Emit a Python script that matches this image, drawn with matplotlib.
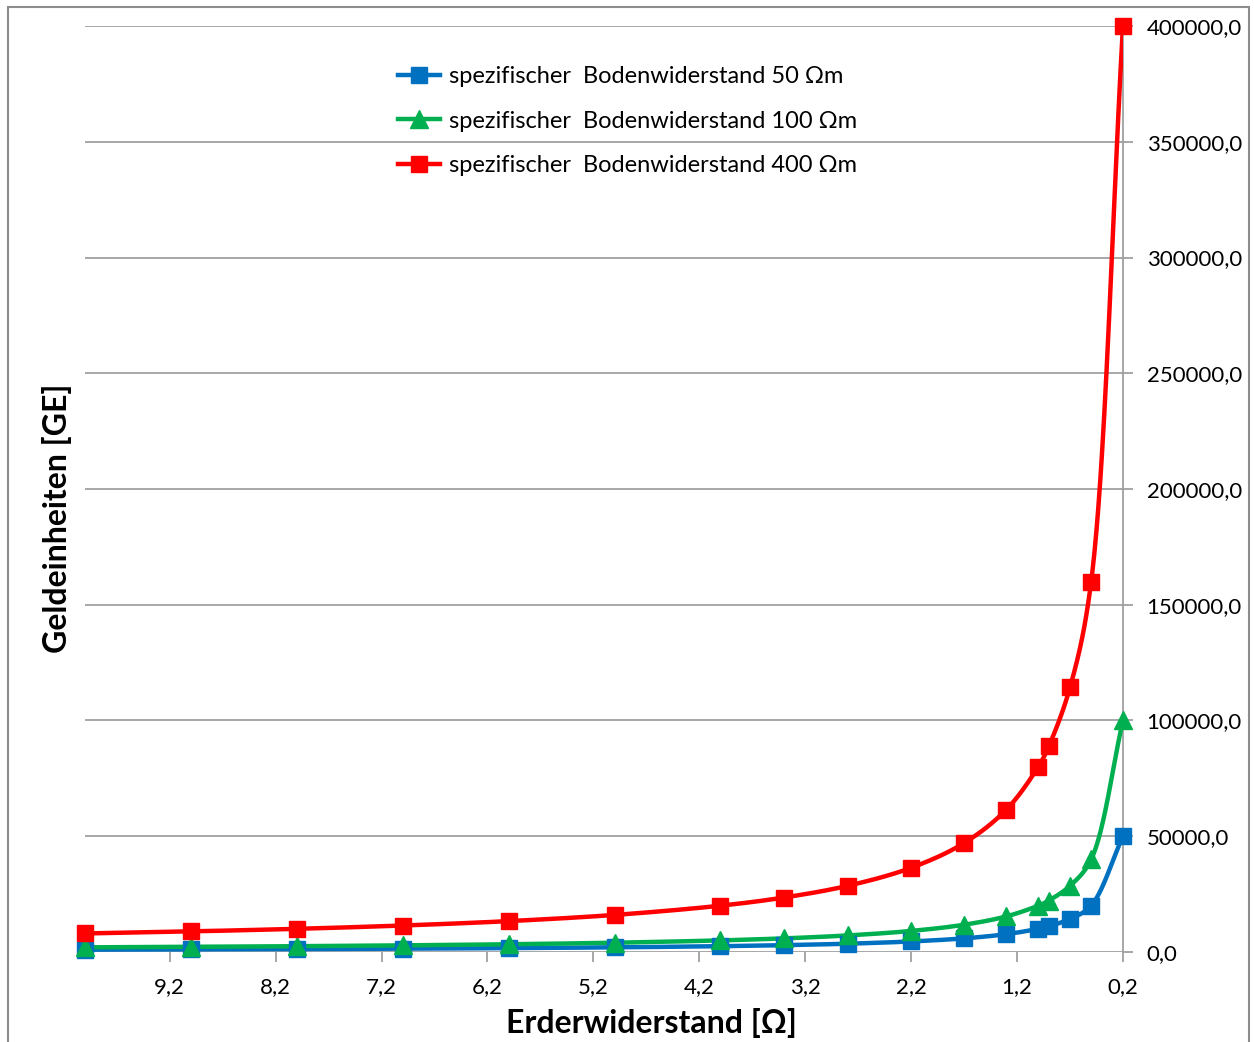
import numpy as np
import matplotlib.pyplot as plt
from matplotlib.ticker import FuncFormatter

plt.rcParams['font.family'] = ['Lato', 'DejaVu Sans']

# Erderwiderstand [Ohm]
erderwiderstand = [10.0, 9.0, 8.0, 7.0, 6.0, 5.0, 4.0, 3.4, 2.8, 2.2, 1.7, 1.3, 1.0, 0.9, 0.7, 0.5, 0.2]

# Geldeinheiten [GE]
kosten_50 = [1000, 1111, 1250, 1429, 1667, 2000, 2500, 2941, 3571, 4545, 5882, 7692,
             10000, 11111, 14286, 20000, 50000]
kosten_100 = [2000, 2222, 2500, 2857, 3333, 4000, 5000, 5882, 7143, 9091, 11765, 15385,
              20000, 22222, 28571, 40000, 100000]
kosten_400 = [8000, 8889, 10000, 11429, 13333, 16000, 20000, 23529, 28571, 36364, 47059,
              61538, 80000, 88889, 114286, 160000, 400000]

labels = ['spezifischer  Bodenwiderstand 50 Ωm',
          'spezifischer  Bodenwiderstand 100 Ωm',
          'spezifischer  Bodenwiderstand 400 Ωm']
colors = ['#0070C0', '#00B050', '#FF0000']
markers = ['s', '^', 's']

x_ticks = [9.2, 8.2, 7.2, 6.2, 5.2, 4.2, 3.2, 2.2, 1.2, 0.2]
y_ticks = [0, 50000, 100000, 150000, 200000, 250000, 300000, 350000, 400000]


def smooth(ax, x, y, n=40):
    # centripetal Catmull-Rom in screen space, like a "smoothed line"
    pts = ax.transData.transform(np.column_stack([x, y]))
    p = np.vstack([2 * pts[0] - pts[1], pts, 2 * pts[-1] - pts[-2]])
    out = []
    for i in range(1, len(p) - 2):
        p0, p1, p2, p3 = p[i - 1], p[i], p[i + 1], p[i + 2]
        t0 = 0.0
        t1 = t0 + np.linalg.norm(p1 - p0) ** 0.5
        t2 = t1 + np.linalg.norm(p2 - p1) ** 0.5
        t3 = t2 + np.linalg.norm(p3 - p2) ** 0.5
        for t in np.linspace(t1, t2, n):
            a1 = (t1 - t) / (t1 - t0) * p0 + (t - t0) / (t1 - t0) * p1
            a2 = (t2 - t) / (t2 - t1) * p1 + (t - t1) / (t2 - t1) * p2
            a3 = (t3 - t) / (t3 - t2) * p2 + (t - t2) / (t3 - t2) * p3
            b1 = (t2 - t) / (t2 - t0) * a1 + (t - t0) / (t2 - t0) * a2
            b2 = (t3 - t) / (t3 - t1) * a2 + (t - t1) / (t3 - t1) * a3
            out.append((t2 - t) / (t2 - t1) * b1 + (t - t1) / (t2 - t1) * b2)
    d = ax.transData.inverted().transform(np.array(out))
    return d[:, 0], d[:, 1]


fig = plt.figure(figsize=(12.54, 10.42), dpi=100)
ax = fig.add_axes([0.0678, 0.0864, 0.8277, 0.8886])
ax.set_xlim(10.0, 0.2)
ax.set_ylim(0, 400000)

for ys, lab, col, mk in zip([kosten_50, kosten_100, kosten_400], labels, colors, markers):
    sx, sy = smooth(ax, erderwiderstand, ys)
    ms = 12 if mk == 's' else 13
    ax.plot(sx, sy, color=col, lw=3.2, solid_capstyle='round', zorder=3)
    ax.plot(erderwiderstand, ys, ls='none', marker=mk, ms=ms, color=col, zorder=4, clip_on=False)
    ax.plot([], [], color=col, lw=3.2, marker=mk, ms=ms, label=lab)

ax.set_xticks(x_ticks)
ax.set_yticks(y_ticks)
ax.xaxis.set_major_formatter(FuncFormatter(lambda v, p: f'{v:.1f}'.replace('.', ',')))
ax.yaxis.set_major_formatter(FuncFormatter(lambda v, p: f'{v:.1f}'.replace('.', ',')))
ax.yaxis.tick_right()

for s in ['top', 'left', 'bottom']:
    ax.spines[s].set_visible(False)
ax.spines['right'].set_color('#A0A0A0')
ax.spines['right'].set_linewidth(1.3)
ax.grid(axis='y', color='#A0A0A0', lw=1.3)
ax.set_axisbelow(True)
ax.tick_params(axis='both', colors='#A0A0A0', labelcolor='black', labelsize=16,
               length=7, width=1.3)
ax.tick_params(axis='y', pad=10)
ax.tick_params(axis='x', pad=11)

ax.set_xlabel('Erderwiderstand [Ω]', fontsize=23, fontweight='bold')
ax.set_ylabel('Geldeinheiten [GE]', fontsize=23, fontweight='bold')
ax.yaxis.set_label_position('left')
ax.xaxis.set_label_coords(0.546, -0.061)
ax.yaxis.set_label_coords(-0.0125, 0.468)

ax.legend(loc='upper left', bbox_to_anchor=(398 / 1254, 1 - 66 / 1042), bbox_transform=fig.transFigure,
          frameon=False, fontsize=17, handlelength=1.8, handletextpad=0.35, labelspacing=1.0,
          borderpad=0, borderaxespad=0)

frame = plt.Rectangle((0.0065, -0.01), 0.9895, 1.003, transform=fig.transFigure,
                      fill=False, edgecolor='#8C8C8C', lw=1.5)
fig.patches.append(frame)

fig.savefig('out.png', dpi=100)
